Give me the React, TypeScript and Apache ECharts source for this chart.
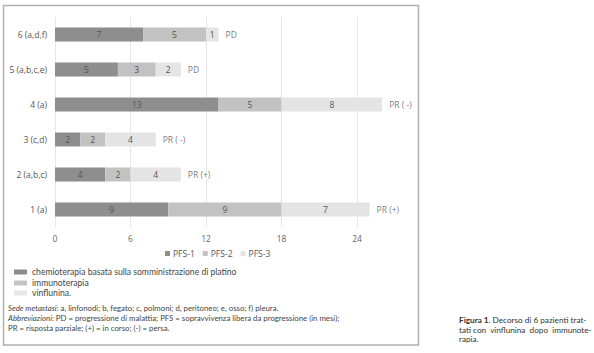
import React, { useEffect, useRef } from "react";
import * as echarts from "echarts";

const categories = ["1 (a)", "2 (a,b,c)", "3 (c,d)", "4 (a)", "5 (a,b,c,e)", "6 (a,d,f)"];
const pfs1 = [9, 4, 2, 13, 5, 7];
const pfs2 = [9, 2, 2, 5, 3, 5];
const pfs3 = [7, 4, 4, 8, 2, 1];
const outcomes = ["PR (+)", "PR (+)", "PR ( -)", "PR ( -)", "PD", "PD"];
const seriesNames = ["PFS-1", "PFS-2", "PFS-3"];
const colors = ["#8e8e8e", "#c2c2c2", "#e4e4e4"];
const xTicks = [0, 6, 12, 18, 24];

const FONT = "'Open Sans', 'Noto Sans', sans-serif";
const NOTE_FONT = "Lato, 'Open Sans', sans-serif";

export default function App() {
  const ref = useRef<HTMLDivElement>(null);
  useEffect(() => {
    if (!ref.current) return;
    const chart = echarts.init(ref.current, undefined, { renderer: "svg" });
    const totals = categories.map((_, i) => pfs1[i] + pfs2[i] + pfs3[i]);
    const valueSets = [pfs1, pfs2, pfs3];
    const barLabel = {
      show: true,
      position: "inside",
      color: "#555",
      fontSize: 8.5,
      fontFamily: FONT,
    };
    const txt = (x: number, y: number, text: string, size: number, extra: any = {}) => ({
      type: "text",
      x,
      y,
      style: {
        text,
        fill: "#444",
        font: `${size}px ${NOTE_FONT}`,
        verticalAlign: "middle",
        ...extra,
      },
    });
    const italic = { fontStyle: "italic", fontSize: 7.8, fontFamily: NOTE_FONT, fill: "#444" };
    chart.setOption({
      animation: false,
      textStyle: { fontFamily: FONT },
      grid: { left: 55, right: 237, top: 17, bottom: 126, containLabel: false },
      legend: {
        data: seriesNames,
        top: 244,
        left: 160,
        itemWidth: 5,
        itemHeight: 5,
        itemGap: 8,
        icon: "rect",
        textStyle: { fontSize: 8.5, color: "#555", fontFamily: FONT, padding: [0, 0, 0, -2] },
      },
      xAxis: {
        type: "value",
        min: 0,
        max: xTicks[xTicks.length - 1],
        interval: 6,
        axisLine: { show: false },
        axisTick: { show: false },
        axisLabel: { color: "#666", fontSize: 8.5, fontFamily: FONT, margin: 7 },
        splitLine: { show: true, lineStyle: { color: "#e6e6e6", width: 1 } },
      },
      yAxis: {
        type: "category",
        data: categories,
        axisLine: { show: false },
        axisTick: { show: false },
        axisLabel: { color: "#555", fontSize: 8.5, fontFamily: FONT, margin: 8 },
      },
      series: [
        ...valueSets.map((vals, k) => ({
          name: seriesNames[k],
          type: "bar",
          stack: "pfs",
          data: vals,
          barWidth: 14,
          clip: false,
          itemStyle: { color: colors[k] },
          label: barLabel,
        })),
        {
          type: "scatter",
          data: totals.map((t, i) => [t, i]),
          symbolSize: 0,
          clip: false,
          silent: true,
          label: {
            show: true,
            position: "right",
            distance: 7,
            color: "#555",
            fontSize: 8.5,
            fontFamily: FONT,
            formatter: (p: any) => outcomes[p.dataIndex],
          },
        },
      ],
      graphic: [
        {
          type: "rect",
          shape: { x: 3.5, y: 5.5, width: 415, height: 339.5 },
          style: { fill: "none", stroke: "#b0b0b0", lineWidth: 1.5 },
        },
        { type: "rect", shape: { x: 14, y: 269.5, width: 13, height: 5 }, style: { fill: "#8c8c8c" } },
        { type: "rect", shape: { x: 14, y: 280.5, width: 13, height: 5 }, style: { fill: "#c4c4c4" } },
        { type: "rect", shape: { x: 14, y: 290.5, width: 13, height: 5 }, style: { fill: "#e8e8e8" } },
        txt(32, 272, "chemioterapia basata sulla somministrazione di platino", 8.6),
        txt(32, 282.5, "immunoterapia", 8.6),
        txt(32, 292.5, "vinflunina.", 8.6),
        txt(8, 308, "{i|Sede metastasi}: a, linfonodi; b, fegato; c, polmoni; d, peritoneo; e, osso; f) pleura.", 7.8, {
          rich: { i: italic },
        }),
        txt(8, 318, "{i|Abbreviazioni}: PD = progressione di malattia; PFS = sopravvivenza libera da progressione (in mesi);", 7.8, {
          rich: { i: italic },
        }),
        txt(8, 327.5, "PR = risposta parziale; (+) = in corso; (-) = persa.", 7.8),
        txt(459, 320, "{b|Figura 1}. Decorso di 6 pazienti trat-", 8.2, {
          fill: "#333",
          rich: { b: { fontWeight: "bold", fontSize: 8.2, fontFamily: NOTE_FONT, fill: "#333" } },
        }),
        txt(459, 329.5, "tati con  vinflunina  dopo  immunote-", 8.2, { fill: "#333" }),
        txt(459, 339, "rapia.", 8.2, { fill: "#333" }),
      ],
    });
    return () => chart.dispose();
  }, []);
  return <div ref={ref} style={{ width: 594, height: 353, position: "absolute", left: 0, top: 0 }} />;
}
